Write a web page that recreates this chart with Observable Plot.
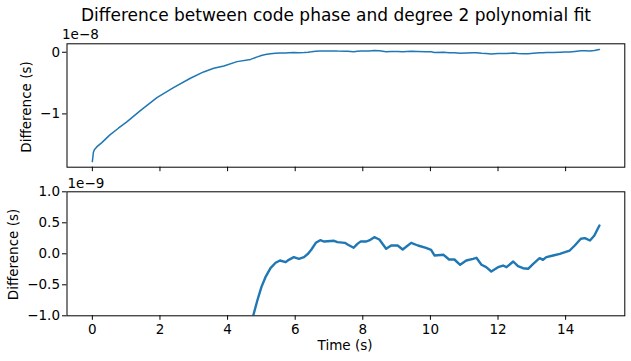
<!DOCTYPE html>
<html><head><meta charset="utf-8">
<script src="https://cdn.jsdelivr.net/npm/d3@7"></script>
<script src="https://cdn.jsdelivr.net/npm/@observablehq/plot@0.6"></script>
<style>
body{margin:0;background:#fff;}
#fig{position:relative;width:631px;height:361px;overflow:hidden;background:#fff;}
#fig svg{position:absolute;left:0;}
</style></head><body><div id="fig"></div>
<script>
// Time (s)
const time = [0.00,0.03,0.06,0.13,0.28,0.52,0.77,1.02,1.41,1.91,2.40,2.90,3.29,3.59,3.89,4.28,4.68,
  4.76,4.88,5.00,5.12,5.27,5.42,5.55,5.72,5.81,5.96,6.11,6.26,6.38,6.48,6.61,6.74,6.86,7.15,7.25,7.47,7.55,7.73,7.84,7.94,
  8.09,8.19,8.34,8.49,8.69,8.84,9.03,9.18,9.43,9.63,9.87,10.02,10.12,10.39,10.55,10.71,10.88,11.06,11.26,11.36,11.51,11.65,
  11.80,12.00,12.15,12.25,12.45,12.59,12.74,12.89,13.04,13.23,13.33,13.43,13.63,13.83,13.98,14.12,14.27,14.45,14.57,14.72,14.85,14.95,15.00];
// Difference between code phase and polynomial fit, in nanoseconds (1e-9 s)
const differenceNs = [-17.73,-16.27,-15.8,-15.35,-14.65,-13.4,-12.32,-11.3,-9.51,-7.35,-5.73,-4.22,-3.19,-2.6,-2.22,-1.52,-1.16,
  -0.995,-0.753,-0.538,-0.377,-0.232,-0.145,-0.108,-0.135,-0.097,-0.054,-0.081,-0.054,0.000,0.069,0.177,0.220,0.198,0.210,0.188,0.177,0.150,0.097,0.160,0.200,
  0.198,0.215,0.268,0.231,0.081,0.134,0.134,0.069,0.177,0.134,0.097,0.065,-0.027,-0.016,-0.092,-0.092,-0.177,-0.108,-0.081,-0.065,-0.177,-0.216,
  -0.285,-0.216,-0.189,-0.216,-0.124,-0.200,-0.232,-0.242,-0.161,-0.071,-0.097,-0.054,-0.027,0.000,0.026,0.053,0.134,0.242,0.252,0.215,0.295,0.403,0.456];

const xTicks = [0, 2, 4, 6, 8, 10, 12, 14];
const topTicksNs = [0, -10];
const bottomTicksNs = [-1, -0.5, 0, 0.5, 1];
const titleText = "Difference between code phase and degree 2 polynomial fit";
const yLabel = "Difference (s)";
const xLabel = "Time (s)";
const topOffset = "1e\u22128";
const bottomOffset = "1e\u22129";

const rows = time.map((t, i) => ({t, v: differenceNs[i]}));
const minus = s => s.replace("-", "\u2212");
const blue = "#1f77b4";
const font = {fontFamily: "'DejaVu Sans', sans-serif", fontSize: "13.5px", color: "#000", background: "transparent", overflow: "visible"};

const fig = document.getElementById("fig");

const topPlot = Plot.plot({
  width: 631, height: 150,
  marginLeft: 66.5, marginRight: 6.7, marginTop: 13.3, marginBottom: 13.3,
  style: font,
  x: {domain: [-0.75, 15.75]},
  y: {domain: [-18.64, 1.37]},
  marks: [
    Plot.line(rows, {x: "t", y: "v", stroke: blue, strokeWidth: 1.5, clip: true}),
    Plot.axisX({ticks: xTicks, tickSize: 4.5, tickFormat: () => "", label: null, stroke: "#000"}),
    Plot.axisY({ticks: topTicksNs, tickSize: 4.5, tickPadding: 2.5, tickFormat: d => minus(String(d / 10)), label: null}),
    Plot.frame({stroke: "#000", strokeWidth: 1})
  ]
});
topPlot.style.top = "30px";
fig.appendChild(topPlot);

const bottomPlot = Plot.plot({
  width: 631, height: 181,
  marginLeft: 66.5, marginRight: 6.7, marginTop: 11.3, marginBottom: 45.7,
  style: font,
  x: {domain: [-0.75, 15.75]},
  y: {domain: [-1, 1]},
  marks: [
    Plot.line(rows, {x: "t", y: "v", stroke: blue, strokeWidth: 2.4, clip: true}),
    Plot.axisX({ticks: xTicks, tickSize: 4.5, tickPadding: 4.5, tickFormat: d => String(d), label: null}),
    Plot.axisY({ticks: bottomTicksNs, tickSize: 4.5, tickPadding: 2.5, tickFormat: d => minus(d.toFixed(1)), label: null}),
    Plot.frame({stroke: "#000", strokeWidth: 1})
  ]
});
bottomPlot.style.top = "180px";
fig.appendChild(bottomPlot);

// text overlay
const ns = "http://www.w3.org/2000/svg";
const ov = document.createElementNS(ns, "svg");
ov.setAttribute("width", 631); ov.setAttribute("height", 361);
ov.style.top = "0px";
ov.style.fontFamily = "'DejaVu Sans', sans-serif";
function txt(s, x, y, size, anchor, rot) {
  const e = document.createElementNS(ns, "text");
  e.textContent = s;
  e.setAttribute("font-size", size);
  e.setAttribute("text-anchor", anchor);
  e.setAttribute("fill", "#000");
  if (rot) {
    e.setAttribute("transform", `translate(${x},${y}) rotate(-90)`);
    e.setAttribute("dy", "0.35em");
  } else {
    e.setAttribute("x", x); e.setAttribute("y", y);
  }
  ov.appendChild(e);
}
txt(titleText, 336, 20.7, 17, "middle");
txt(topOffset, 62, 39, 13.5, "start");
txt(bottomOffset, 67.5, 188.3, 13.5, "start");
txt(yLabel, 26.7, 107, 13.5, "middle", true);
txt(yLabel, 13.3, 254.5, 13.5, "middle", true);
txt(xLabel, 345, 350, 13.5, "middle");
fig.appendChild(ov);
</script></body></html>
